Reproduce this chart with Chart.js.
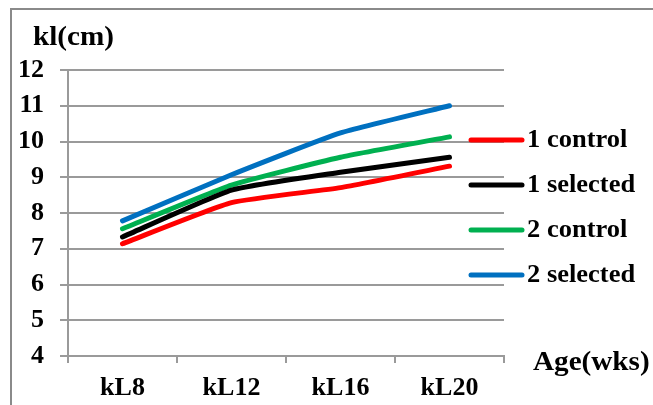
<!DOCTYPE html>
<html>
<head>
<meta charset="utf-8">
<script src="https://cdn.jsdelivr.net/npm/chart.js@4"></script>
<style>
  html, body { margin: 0; padding: 0; background: #ffffff; }
  #wrap { width: 653px; height: 405px; position: relative; }
  canvas { display: block; }
</style>
</head>
<body>
<div id="wrap"><canvas id="chart" width="653" height="405"></canvas></div>
<script>
// Age groups along the x axis
const categories = ['kL8', 'kL12', 'kL16', 'kL20'];

// Keel length (cm) per line and treatment
const control1 = [7.14, 8.29, 8.71, 9.31];
const selected1 = [7.33, 8.64, 9.14, 9.56];
const control2 = [7.56, 8.78, 9.56, 10.13];
const selected2 = [7.78, 9.07, 10.24, 11.0];

const seriesNames = ['1 control', '1 selected', '2 control', '2 selected'];
const seriesColors = ['#ff0000', '#000000', '#00b050', '#0070c0'];
const seriesValues = [control1, selected1, control2, selected2];

// Y axis range
const yMin = 4;
const yMax = 12;
const yStep = 1;

const yTitle = 'kl(cm)';
const xTitle = 'Age(wks)';

const SERIF = '"Liberation Serif", "Times New Roman", serif';
const GRID = '#9a9a9a';

// draw text slightly widened, anchored at its left edge
function wideText(ctx, text, x, y, stretch) {
  ctx.save();
  ctx.translate(x, y);
  ctx.scale(stretch, 1);
  ctx.fillText(text, 0, 0);
  ctx.restore();
}

// Frame, axis titles and the legend on the right
const decorations = {
  id: 'decorations',
  afterDraw(chart) {
    const ctx = chart.ctx;
    ctx.save();
    // outer frame (top and left edges)
    ctx.strokeStyle = '#8a8a8a';
    ctx.lineWidth = 2;
    ctx.beginPath();
    ctx.moveTo(11, 405);
    ctx.lineTo(11, 9);
    ctx.lineTo(653, 9);
    ctx.stroke();

    ctx.fillStyle = '#000';
    ctx.textBaseline = 'alphabetic';
    ctx.textAlign = 'left';
    ctx.font = 'bold 27px ' + SERIF;
    wideText(ctx, yTitle, 33, 45, 1.08);
    wideText(ctx, xTitle, 533, 370, 1.08);

    // legend
    ctx.font = 'bold 25px ' + SERIF;
    ctx.textBaseline = 'middle';
    chart.data.datasets.forEach((ds, i) => {
      const y = 140 + i * 45;
      ctx.strokeStyle = ds.borderColor;
      ctx.lineWidth = 5;
      ctx.lineCap = 'round';
      ctx.beginPath();
      ctx.moveTo(471, y);
      ctx.lineTo(522, y);
      ctx.stroke();
      wideText(ctx, ds.label, 527, y + 1, 1.06);
    });
    ctx.restore();
  }
};

new Chart(document.getElementById('chart'), {
  type: 'line',
  data: {
    labels: categories,
    datasets: seriesNames.map((name, i) => ({
      label: name,
      data: seriesValues[i],
      borderColor: seriesColors[i],
      backgroundColor: seriesColors[i],
      borderWidth: 5,
      borderCapStyle: 'round',
      borderJoinStyle: 'round',
      pointRadius: 0,
      tension: 0.15,
      fill: false
    }))
  },
  options: {
    responsive: false,
    animation: false,
    events: [],
    layout: { padding: { left: 0, top: 70, right: 149, bottom: 0 } },
    plugins: {
      legend: { display: false },
      tooltip: { enabled: false },
      title: { display: false }
    },
    scales: {
      x: {
        offset: true,
        afterFit(scale) { scale.height = 49; },
        grid: {
          offset: true,
          drawOnChartArea: false,
          drawTicks: true,
          tickLength: 7,
          color: GRID,
          lineWidth: 2
        },
        border: { display: true, color: GRID, width: 2 },
        ticks: {
          color: '#000',
          padding: 10,
          font: { family: SERIF, size: 26, weight: 'bold' }
        }
      },
      y: {
        min: yMin,
        max: yMax,
        afterFit(scale) { scale.width = 68; },
        grid: {
          color: GRID,
          lineWidth: 2,
          drawTicks: true,
          tickLength: 8
        },
        border: { display: true, color: GRID, width: 2 },
        ticks: {
          stepSize: yStep,
          color: '#000',
          padding: 16,
          font: { family: SERIF, size: 26, weight: 'bold' }
        }
      }
    }
  },
  plugins: [decorations]
});
</script>
</body>
</html>
